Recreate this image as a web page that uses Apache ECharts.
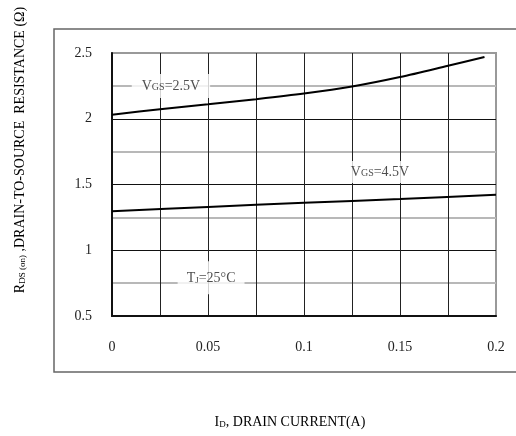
<!DOCTYPE html>
<html>
<head>
<meta charset="utf-8">
<script src="https://cdn.jsdelivr.net/npm/echarts@6/dist/echarts.min.js"></script>
<style>html,body{margin:0;padding:0;background:#fff}#c{width:516px;height:436px}</style>
</head>
<body>
<div id="c"></div>
<script>
// Data
const currentsVgs25 = [0, 0.025, 0.05, 0.075, 0.1, 0.125, 0.15, 0.175, 0.194];
const rdsVgs25 = [2.03, 2.073, 2.11, 2.149, 2.192, 2.245, 2.317, 2.403, 2.47];
const currentsVgs45 = [0, 0.05, 0.1, 0.15, 0.2];
const rdsVgs45 = [1.296, 1.329, 1.361, 1.389, 1.422];
const labelVgs25 = [0.0307, 2.25];
const labelVgs45 = [0.1396, 1.595];
const labelTj = [0.0516, 0.79];

const FONT = "'Liberation Serif','Times New Roman','DejaVu Serif',serif";
const TXT = '#222';

const pairs = (xs, ys) => xs.map((x, i) => [x, ys[i]]);

const richCommon = {
  n: { fontFamily: FONT, fontSize: 14, color: TXT },
  s: { fontFamily: FONT, fontSize: 10, color: TXT, verticalAlign: 'bottom', padding: [0, 0, 1, 0] },
  sub: { fontFamily: FONT, fontSize: 9, color: TXT, padding: [6, 0, 0, 0] }
};

function textLabel(pos, text, padding) {
  return {
    type: 'scatter',
    data: [pos],
    symbolSize: 1,
    itemStyle: { color: 'rgba(0,0,0,0)' },
    silent: true,
    z: 5,
    label: {
      show: true,
      position: 'inside',
      formatter: text,
      backgroundColor: '#fff',
      padding: padding,
      rich: richCommon
    }
  };
}

const chart = echarts.init(document.getElementById('c'), null, { renderer: 'canvas' });
chart.setOption({
  animation: false,
  backgroundColor: '#fff',
  grid: { left: 112, top: 53, right: 20, bottom: 120, show: true, borderColor: '#999', borderWidth: 2, backgroundColor: 'transparent' },
  xAxis: {
    type: 'value', min: 0, max: 0.2, interval: 0.05,
    axisLine: { show: true, onZero: false, lineStyle: { color: '#111', width: 2 } },
    axisTick: { show: false },
    minorTick: { show: false, splitNumber: 2 },
    axisLabel: { margin: 24, fontFamily: FONT, fontSize: 14, color: TXT },
    splitLine: { show: true, showMaxLine: false, showMinLine: false, lineStyle: { color: '#222', width: 1 } },
    minorSplitLine: { show: true, lineStyle: { color: '#222', width: 1 } }
  },
  yAxis: {
    type: 'value', min: 0.5, max: 2.5, interval: 0.5,
    axisLine: { show: true, onZero: false, lineStyle: { color: '#111', width: 2 } },
    axisTick: { show: false },
    minorTick: { show: false, splitNumber: 2 },
    axisLabel: { margin: 20, fontFamily: FONT, fontSize: 14, color: TXT },
    splitLine: { show: true, showMaxLine: false, showMinLine: false, lineStyle: { color: '#111', width: 1 } },
    minorSplitLine: { show: true, lineStyle: { color: '#b8b8b8', width: 2 } }
  },
  series: [
    { type: 'line', data: pairs(currentsVgs25, rdsVgs25), smooth: 0.3, symbol: 'none', lineStyle: { color: '#000', width: 2 }, z: 6 },
    { type: 'line', data: pairs(currentsVgs45, rdsVgs45), smooth: 0.3, symbol: 'none', lineStyle: { color: '#000', width: 2 }, z: 6 },
    textLabel(labelVgs25, '{n|V}{s|GS}{n|=2.5V}', [5, 10]),
    textLabel(labelVgs45, '{n|V}{s|GS}{n|=4.5V}', [4, 6]),
    textLabel(labelTj, '{n|T}{sub|J}{n|=25°C}', [9, 9])
  ],
  graphic: [
    { type: 'rect', shape: { x: 54, y: 29, width: 480, height: 343 }, style: { fill: 'none', stroke: '#666', lineWidth: 1.5 }, silent: true, z: -10 },
    {
      type: 'text', x: 20, y: 150, rotation: Math.PI / 2,
      style: {
        text: '{n|R}{sub|DS (on)}{n| ,DRAIN-TO-SOURCE  RESISTANCE (Ω)}',
        align: 'center', verticalAlign: 'middle',
        rich: richCommon
      }
    },
    {
      type: 'text', x: 290, y: 422,
      style: {
        text: '{n|I}{sub|D}{n|, DRAIN CURRENT(A)}',
        align: 'center', verticalAlign: 'middle',
        rich: richCommon
      }
    }
  ]
});
</script>
</body>
</html>
